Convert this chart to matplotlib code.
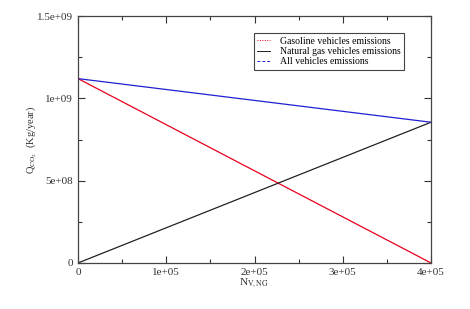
import matplotlib
matplotlib.use("Agg")
import matplotlib.pyplot as plt
from matplotlib.ticker import MultipleLocator

plt.rcParams['font.family'] = ['Liberation Serif', 'DejaVu Serif']
plt.rcParams['mathtext.fontset'] = 'stix'

n_ng = [0, 4e5]
gasoline = [1.12e9, 0]
natural_gas = [0, 8.55e8]
all_vehicles = [1.12e9, 8.55e8]

x_ticks = [0, 1e5, 2e5, 3e5, 4e5]
x_labels = ['0', '1e+05', '2e+05', '3e+05', '4e+05']
y_ticks = [0, 5e8, 1e9, 1.5e9]
y_labels = ['0', '5e+08', '1e+09', '1.5e+09']

fig = plt.figure(figsize=(4.7, 3.09), dpi=100)
ax = fig.add_axes([0.166, 0.149, 0.751, 0.799])

ax.plot(n_ng, gasoline, color='#e8001c', lw=0.9)
ax.plot(n_ng, natural_gas, color='#222222', lw=0.9)
ax.plot(n_ng, all_vehicles, color='#2020d0', lw=0.9)

h1, = ax.plot([], [], color='#e8001c', lw=0.7, ls=(0, (1, 1.5)))
h2, = ax.plot([], [], color='#222222', lw=0.7, ls='-')
h3, = ax.plot([], [], color='#2020d0', lw=0.7, ls=(0, (3, 2)))
leg = ax.legend([h1, h2, h3],
                ['Gasoline vehicles emissions', 'Natural gas vehicles emissions', 'All vehicles emissions'],
                loc='upper left', bbox_to_anchor=(0.4986, 0.931), borderaxespad=0, fontsize=7,
                frameon=True, fancybox=False, framealpha=1, edgecolor='#444444',
                handlelength=1.3, handletextpad=1.0, labelspacing=0.15, borderpad=0.35)
leg.get_frame().set_linewidth(0.8)

ax.set_xlim(0, 4e5)
ax.set_ylim(0, 1.5e9)
ax.set_xticks(x_ticks)
ax.set_xticklabels(x_labels)
ax.set_yticks(y_ticks)
ax.set_yticklabels(y_labels)
ax.xaxis.set_minor_locator(MultipleLocator(5e4))
ax.yaxis.set_minor_locator(MultipleLocator(2.5e8))
ax.tick_params(which='both', direction='in', top=True, right=True, labelsize=8, colors='#333333')
ax.tick_params(which='major', length=5, width=0.8)
ax.tick_params(which='minor', length=3, width=0.8)
for s in ax.spines.values():
    s.set_color('#444444')
    s.set_linewidth(0.9)

ax.set_xlabel(r'N$_{\mathrm{V,NG}}$', fontsize=8, color='#333333', labelpad=0)
ax.set_ylabel(r'Q$_{\mathrm{CO_2}}$  (Kg/year)', fontsize=7.5, color='#333333', labelpad=-1)

fig.savefig('out.png', dpi=100)
